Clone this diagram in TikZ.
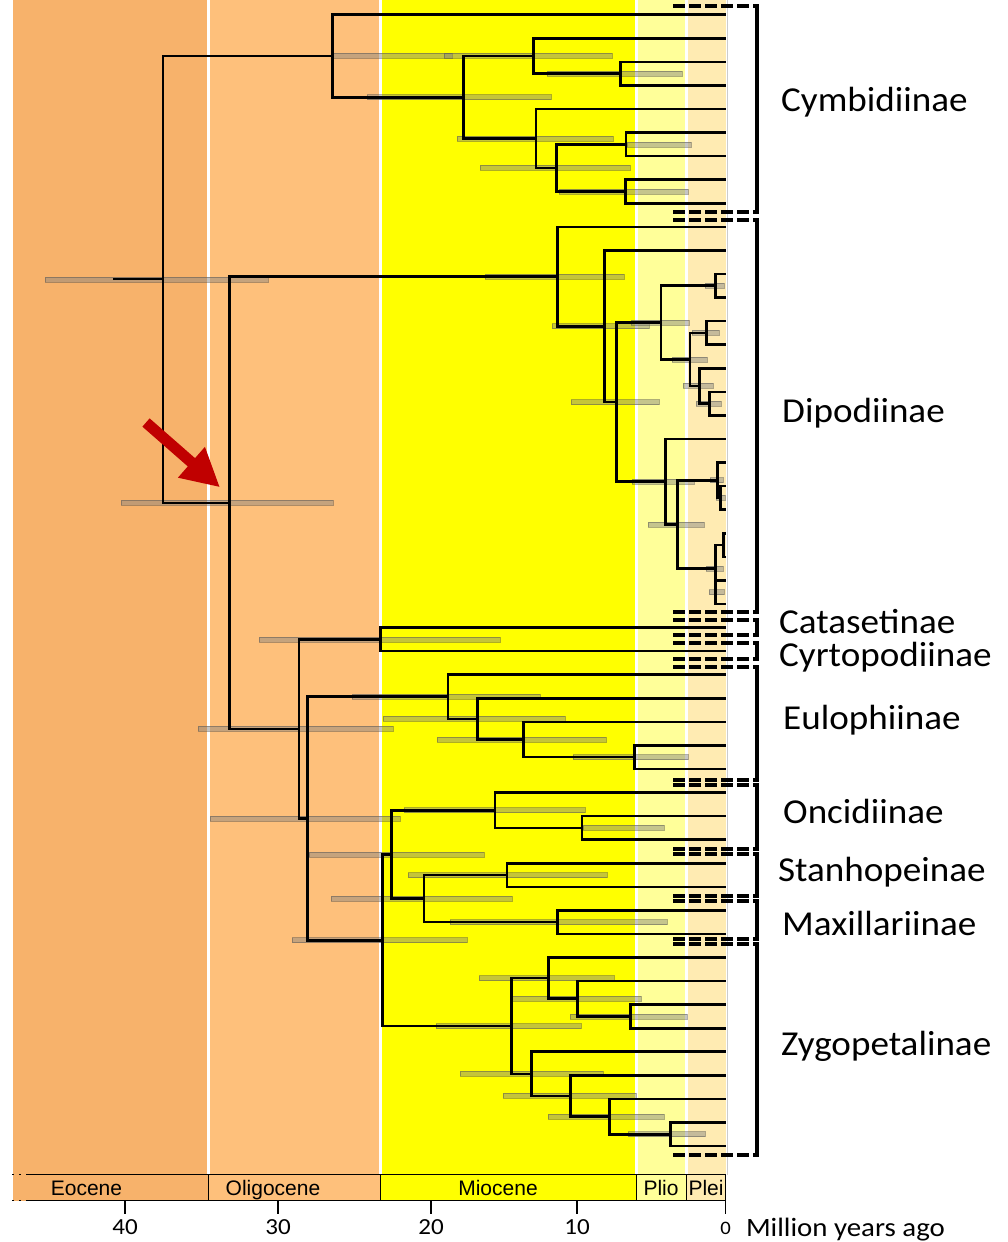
\documentclass[tikz,border=0pt]{standalone}
\usepackage{fontspec}
\setmainfont{Carlito}
\newfontfamily\epochfont{Liberation Sans}
\newfontfamily\grpfont[FakeStretch=1.06]{Carlito}
\newfontfamily\axfont[FakeStretch=1.09]{Carlito}
\usetikzlibrary{arrows.meta}
\definecolor{eoc}{HTML}{F7B26B}
\definecolor{oli}{HTML}{FEC07B}
\definecolor{mio}{HTML}{FFFF00}
\definecolor{pli}{HTML}{FFFF99}
\definecolor{ple}{HTML}{FFEBB2}
\definecolor{arrred}{HTML}{C00000}
\begin{document}
\begin{tikzpicture}[x=1pt,y=-1pt,
  branch/.style={line width=2.6pt,line join=miter,line cap=butt},
  deepbranch/.style={line width=2.3pt,line join=miter,line cap=butt},
  errbar/.style={fill=black!50,fill opacity=0.45,draw=black!70,draw opacity=0.45,line width=0.6pt},
  dashbr/.style={line width=4pt,dash pattern=on 12pt off 4pt},
  brline/.style={line width=3.5pt},
  grp/.style={inner sep=0pt,anchor=base west,text height=23pt,text depth=0pt,font=\grpfont\fontsize{35}{38}\selectfont},
  epl/.style={inner sep=0pt,anchor=base,font=\epochfont\fontsize{21}{24}\selectfont},
  tickl/.style={inner sep=0pt,anchor=base,font=\axfont\fontsize{23}{26}\selectfont},
  sepline/.style={white,line width=3pt},
  barline/.style={line width=1.4pt}]
\useasboundingbox (0,0) rectangle (1008,1242);
% background
\fill[white] (0,0) rectangle (1008,1242);
\fill[eoc] (13,0) rectangle (208.5,1200.5);
\fill[oli] (208.5,0) rectangle (380.5,1200.5);
\fill[mio] (380.5,0) rectangle (636.5,1200.5);
\fill[pli] (636.5,0) rectangle (686.5,1200.5);
\fill[ple] (686.5,0) rectangle (726,1200.5);
\foreach \sx in {208.5,380.5,636.5,686.5} \draw[sepline] (\sx,0) -- (\sx,1174.5);
\draw[white,line width=1.5pt] (12.5,0) -- (12.5,1174.5);
\draw[black!20,line width=1pt] (727,0) -- (727,1174.5);
% time bar
\draw[barline] (27,1174.5) -- (725.5,1174.5);
\draw[barline] (27,1200.5) -- (725.5,1200.5);
\draw[barline,dash pattern=on 2pt off 5pt] (12,1174.5) -- (27,1174.5);
\draw[barline,dash pattern=on 2pt off 5pt] (12,1200.5) -- (27,1200.5);
\foreach \sx in {208.5,380.5,636.5,686.5,725.5} \draw[barline] (\sx,1174.5) -- (\sx,1200.5);
\node[epl] (leoc) at (86.5,1195) {Eocene};
\node[epl] (loli) at (273,1195) {Oligocene};
\node[epl] (lmio) at (498,1195) {Miocene};
\node[epl] (lpli) at (661,1195) {Plio};
\node[epl] (lple) at (706,1195) {Plei};
\foreach \tx/\tl in {125/40,278/30,431/20,577/10} {
  \draw[barline] (\tx,1200.5) -- (\tx,1213.5);
  \node[tickl] (tick\tl) at (\tx,1234.5) {\tl};
}
\draw[barline] (725.5,1200.5) -- (725.5,1213.5);
\node[tickl,font=\axfont\fontsize{19}{22}\selectfont] (tick0) at (725.5,1234.3) {0};
\node[inner sep=0pt,anchor=base west,font=\axfont\fontsize{26.5}{30}\selectfont] (lmya) at (745.8,1236.5) {Million years ago};
% error bars
\foreach \by/\ba/\bb in {279.34/45/268, 502.72/121/333, 55.95/333/452, 55.95/444/612,
  97.2/367/551, 73.63/547/682, 138.45/457/613, 167.91/480/630, 144.34/627/691,
  191.48/559/688, 276.55/485/624, 326.27/552/649, 402.14/571/659, 322.59/631/689,
  285.76/705/724, 359.41/672/707, 332.9/692/719, 385.93/683/713, 403.6/696/721,
  481.68/632/694, 524.4/648/704, 480.21/710/723, 497.89/716/725, 568.6/706/723,
  592.17/709/724, 639.3/259/500, 728.89/198/393, 818.48/210/400, 696.76/352/540,
  718.86/383/565, 739.48/437/606, 757.16/573/688, 940.19/292/467, 854.38/309/484,
  810.19/404/585, 827.87/583/664, 898.57/331/512, 875.0/408/607, 922.15/450/667,
  1026.0/436/581, 978.12/479/614, 998.75/512/641, 1016.43/570/687, 1073.88/460/603,
  1095.97/503/636, 1116.6/548/664, 1134.28/628/705}
  \draw[errbar] (\ba,{\by-2.5}) rectangle (\bb,{\by+2.5});
% tips
\foreach \i in {0,...,48} \coordinate (t\i) at (726,{14.7+23.57*\i});
% internal nodes
\coordinate (root) at (113,279.34);
\coordinate (R1) at (163,279.34);
\coordinate (R2) at (229.5,502.72);
\coordinate (A) at (332.7,55.95);
\coordinate (B) at (463.3,97.2);
\coordinate (C) at (533.3,55.95);
\coordinate (E) at (620.7,73.63);
\coordinate (D) at (536,138.45);
\coordinate (F) at (556.7,167.91);
\coordinate (G) at (626,144.34);
\coordinate (H) at (625.3,191.48);
\coordinate (P) at (557.7,276.55);
\coordinate (Q) at (604.3,326.27);
\coordinate (S) at (616.7,402.14);
\coordinate (T) at (661,322.59);
\coordinate (U) at (715.7,285.76);
\coordinate (V) at (690,359.41);
\coordinate (W) at (706.7,332.9);
\coordinate (X) at (699.7,385.93);
\coordinate (Y) at (709.3,403.6);
\coordinate (Z) at (665.7,481.68);
\coordinate (AA) at (677.7,524.4);
\coordinate (AB) at (717.5,480.21);
\coordinate (AC) at (720.7,497.89);
\coordinate (AD) at (715.3,568.6);
\coordinate (AE) at (723.5,545.03);
\coordinate (AF) at (715.5,592.17);
\coordinate (M1) at (298.8,728.89);
\coordinate (M2) at (307.3,818.48);
\coordinate (CC) at (380.2,639.3);
\coordinate (EU) at (447.9,696.76);
\coordinate (EV) at (477.5,718.86);
\coordinate (EW) at (523.7,739.48);
\coordinate (EX) at (634.7,757.16);
\coordinate (N1) at (382.3,940.19);
\coordinate (N2) at (391.3,854.38);
\coordinate (N3) at (423.8,898.57);
\coordinate (ON) at (494.9,810.19);
\coordinate (OO) at (581.8,827.87);
\coordinate (ST) at (507.1,875.0);
\coordinate (MX) at (557.7,922.15);
\coordinate (ZA) at (511.3,1026.0);
\coordinate (ZB) at (548.3,978.12);
\coordinate (ZC) at (577.7,998.75);
\coordinate (ZD) at (630.7,1016.43);
\coordinate (ZE) at (531.7,1073.88);
\coordinate (ZF) at (570.7,1095.97);
\coordinate (ZG) at (609.7,1116.6);
\coordinate (ZH) at (670.7,1134.28);
% branches
\draw[deepbranch] (root) -- (R1);
\foreach \pa/\ch in {R1/A, R1/R2, R2/P} \draw[deepbranch] (\pa) |- (\ch);
\foreach \pa/\ch in {A/t0, A/B, B/C, B/D, C/t1, C/E, E/t2, E/t3, D/t4, D/F, F/G, F/H,
  G/t5, G/t6, H/t7, H/t8, R2/M1,
  P/t9, P/Q, Q/t10, Q/S, S/T, S/Z, T/U, T/V, U/t11, U/t12, V/W, V/X, W/t13, W/t14,
  X/t15, X/Y, Y/t16, Y/t17, Z/t18, Z/AA, AA/AB, AA/AD, AB/t19, AB/AC, AC/t20, AC/t21,
  AD/AE, AD/AF, AE/t22, AE/t23, AF/t24, AF/t25,
  M1/CC, M1/M2, CC/t26, CC/t27,
  M2/EU, M2/N1, EU/t28, EU/EV, EV/t29, EV/EW, EW/t30, EW/EX, EX/t31, EX/t32,
  N1/N2, N1/ZA, N2/ON, N2/N3, ON/t33, ON/OO, OO/t34, OO/t35, N3/ST, N3/MX,
  ST/t36, ST/t37, MX/t38, MX/t39,
  ZA/ZB, ZA/ZE, ZB/t40, ZB/ZC, ZC/t41, ZC/ZD, ZD/t42, ZD/t43, ZE/t44, ZE/ZF,
  ZF/t45, ZF/ZG, ZG/t46, ZG/ZH, ZH/t47, ZH/t48}
  \draw[branch] (\pa) |- (\ch);
% brackets
\foreach \bt/\bb in {6/212, 219.5/612, 620/635, 643/658.5, 667/779.5, 784.5/848.5,
  853.5/895.5, 901/938.5, 943.5/1155} {
  \draw[dashbr] (673,\bt) -- (758.5,\bt);
  \draw[dashbr] (673,\bb) -- (758.5,\bb);
  \draw[brline] (757,\bt) -- (757,\bb);
}
% group labels
\node[grp] (lcym) at (781,111) {Cymbidiinae};
\node[grp] (ldip) at (782,422) {Dipodiinae};
\node[grp] (lcat) at (779,633.5) {Catasetinae};
\node[grp] (lcyr) at (779,666) {Cyrtopodiinae};
\node[grp] (leul) at (783,729) {Eulophiinae};
\node[grp] (lonc) at (783,823) {Oncidiinae};
\node[grp] (lsta) at (778,881) {Stanhopeinae};
\node[grp] (lmax) at (782,935.5) {Maxillariinae};
\node[grp] (lzyg) at (781,1055) {Zygopetalinae};
% red arrow
\coordinate (arrtail) at (146,422.5);
\coordinate (arrtip) at (220,487.3);
\draw[arrred,line width=11pt,-{Triangle[length=38pt,width=38pt]}] (arrtail) -- (arrtip);
\end{tikzpicture}
\end{document}
